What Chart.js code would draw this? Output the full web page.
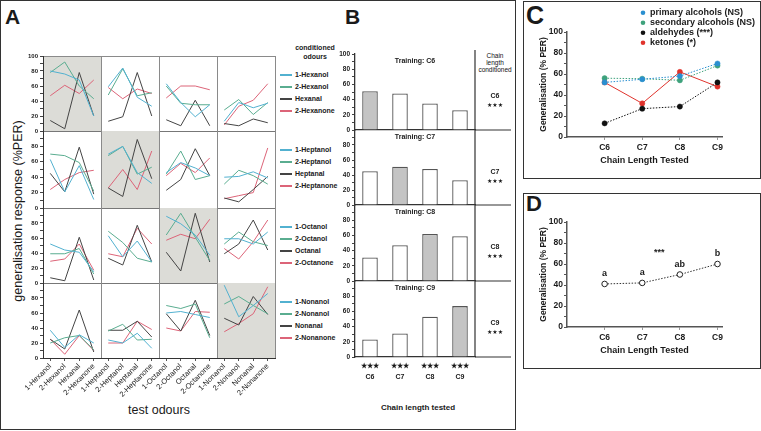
<!DOCTYPE html>
<html>
<head>
<meta charset="utf-8">
<script src="https://cdn.jsdelivr.net/npm/chart.js@4.4.1/dist/chart.umd.min.js"></script>
<style>
body { margin: 0; width: 761px; height: 431px; position: relative; background: #fff; overflow: hidden;
       font-family: "Liberation Sans", Arial, sans-serif; color: #1a1a1a; }
canvas { position: absolute; }
.frame { position: absolute; border: 1.5px solid #333; box-sizing: border-box; }
.txt { position: absolute; white-space: nowrap; line-height: 1; }
.panel { position: absolute; font-weight: bold; line-height: 1; }
</style>
</head>
<body>
<div class="frame" style="left:0;top:0;width:516px;height:430px"></div>
<div class="frame" style="left:523px;top:1px;width:238px;height:178px"></div>
<div class="frame" style="left:523px;top:193px;width:238px;height:176px"></div>

<div class="panel" style="left:5px;top:6px;font-size:21px">A</div>
<div class="panel" style="left:345px;top:6px;font-size:21px">B</div>
<div class="panel" style="left:526px;top:3px;font-size:25px">C</div>
<div class="panel" style="left:526px;top:193px;font-size:22px">D</div>

<div class="txt" style="left:18px;top:211px;font-size:12.5px;transform:translate(-50%,-50%) rotate(-90deg)">generalisation response (%PER)</div>
<div class="txt" style="left:159px;top:410px;font-size:12.5px;transform:translate(-50%,-50%)">test odours</div>
<div class="txt" style="left:315px;top:52px;font-size:7px;font-weight:bold;text-align:center;line-height:9px;transform:translate(-50%,-50%)">conditioned<br>odours</div>
<div id="aLegend"></div>

<div class="txt" style="left:495px;top:62px;font-size:6.5px;text-align:center;line-height:7px;color:#111;transform:translate(-50%,-50%)">Chain<br>length<br>conditioned</div>
<div class="txt" style="left:418px;top:408px;font-size:8px;font-weight:bold;transform:translate(-50%,-50%)">Chain length tested</div>

<canvas id="a0"></canvas><canvas id="a1"></canvas><canvas id="a2"></canvas><canvas id="a3"></canvas>
<canvas id="b0"></canvas><canvas id="b1"></canvas><canvas id="b2"></canvas><canvas id="b3"></canvas>
<canvas id="c"></canvas>
<canvas id="d"></canvas>

<script>
// ---------- data ----------
const testOdours = ['1-Hexanol', '2-Hexanol', 'Hexanal', '2-Hexanone',
                    '1-Heptanol', '2-Heptanol', 'Heptanal', '2-Heptanone',
                    '1-Octanol', '2-Octanol', 'Octanal', '2-Octanone',
                    '1-Nonanol', '2-Nonanol', 'Nonanal', '2-Nonanone'];
const percentTicks = [0, 10, 20, 30, 40, 50, 60, 70, 80, 90, 100];

// A: one line per conditioned odour, values for the 16 test odours
const hexanol1  = [80, 76, 68, 20, 59, 84, 45, 33, 63, 38, 19, 35, 13, 38, 31, 37];
const hexanol2  = [78, 92, 60, 43, 48, 83, 47, 51, 60, 37, 35, 35, 28, 42, 22, 38];
const hexanal   = [14, 3, 78, 20, 13, 19, 78, 20, 15, 7, 41, 7, 10, 7, 16, 11];
const hexanone2 = [47, 61, 50, 68, 58, 43, 56, 50, 44, 60, 60, 55, 8, 33, 41, 63];

const heptanol1  = [63, 21, 55, 11, 70, 80, 46, 32, 46, 59, 52, 42, 40, 41, 47, 39];
const heptanol2  = [70, 68, 59, 22, 68, 80, 44, 53, 44, 74, 37, 42, 31, 49, 42, 31];
const heptanal   = [45, 21, 79, 18, 26, 15, 89, 38, 23, 37, 77, 42, 13, 8, 24, 41];
const heptanone2 = [24, 37, 46, 49, 26, 50, 24, 74, 42, 58, 46, 65, 12, 16, 20, 78];

const octanol1  = [52, 44, 41, 15, 63, 35, 56, 28, 89, 79, 64, 37, 59, 59, 52, 68];
const octanol2  = [39, 39, 46, 12, 69, 54, 33, 28, 64, 93, 61, 30, 52, 68, 55, 50];
const octanal   = [7, 3, 61, 4, 33, 24, 77, 28, 41, 16, 93, 28, 39, 52, 84, 44];
const octanone2 = [29, 32, 52, 17, 39, 35, 73, 52, 57, 65, 59, 85, 46, 32, 55, 84];

const nonanol1  = [37, 14, 31, 20, 24, 20, 33, 13, 60, 62, 58, 54, 97, 55, 70, 86];
const nonanol2  = [20, 27, 30, 11, 36, 45, 24, 25, 70, 66, 72, 27, 72, 82, 70, 59];
const nonanal   = [25, 12, 64, 8, 37, 37, 49, 28, 59, 36, 77, 30, 53, 44, 82, 58];
const nonanone2 = [25, 5, 30, 10, 20, 20, 49, 38, 40, 36, 62, 61, 35, 46, 59, 95];

// B: bars per training chain length
const chainLabels = ['C6', 'C7', 'C8', 'C9'];
const chainLengths = [6, 7, 8, 9];
const trainingC6 = [51, 48, 35, 26];
const trainingC7 = [45, 51, 48, 33];
const trainingC8 = [31, 47, 62, 59];
const trainingC9 = [23, 31, 53, 67];
const sigStars = ['★★★', '★★★', '★★★', '★★★'];

// C: per functional group
const primaryAlcohols = [52, 55, 58, 70];
const secondaryAlcohols = [56, 55.5, 54, 68];
const aldehydes = [13, 27, 29, 52];
const ketones = [52, 32, 62, 48];
const groupNames = ['primary alcohols (NS)', 'secondary alcohols (NS)', 'aldehydes (***)', 'ketones (*)'];

// D: pooled
const pooled = [41, 42, 50, 60];
const pooledLetters = ['a', 'a', 'ab', 'b'];

// ---------- layout / style ----------
const FONT = '"Liberation Sans", Arial, sans-serif';
const A_ROWS = [[56, 131], [131, 208], [208, 283], [283, 358]];
const B_ROWS = [[54, 130], [130, 205], [205, 281], [281, 357]];
const odourColours = ['#52b1d0', '#5aad90', '#444444', '#dc6478'];

Chart.defaults.font.family = FONT;
Chart.defaults.color = '#1a1a1a';
Chart.defaults.animation = false;
Chart.defaults.plugins.legend.display = false;
Chart.defaults.plugins.tooltip.enabled = false;

function place(id, left, top, w, h) {
    const c = document.getElementById(id);
    c.width = w; c.height = h;
    c.style.left = left + 'px';
    c.style.top = top + 'px';
    return c;
}

// grey cell + cell borders for the odour grid
const cellPlugin = {
    id: 'cells',
    beforeDraw(chart, args, o) {
        const { ctx, chartArea: a, scales: { x } } = chart;
        const step = x.getPixelForValue(1) - x.getPixelForValue(0);
        const edge = k => x.getPixelForValue(4 * k) - step / 2;
        ctx.save();
        ctx.fillStyle = '#dcdcd7';
        ctx.fillRect(edge(o.shade), a.top, edge(o.shade + 1) - edge(o.shade), a.bottom - a.top);
        ctx.strokeStyle = '#8a8a8a';
        ctx.lineWidth = 1;
        ctx.beginPath();
        for (let k = 1; k <= 4; k++) {
            const px = Math.round(edge(k)) + 0.5;
            ctx.moveTo(px, a.top); ctx.lineTo(px, a.bottom);
        }
        if (o.top) { ctx.moveTo(a.left, a.top + 0.5); ctx.lineTo(a.right, a.top + 0.5); }
        ctx.stroke();
        ctx.restore();
    }
};

// ===============================
// A: odour generalisation grid
// ===============================
const aRows = [
    [hexanol1, hexanol2, hexanal, hexanone2],
    [heptanol1, heptanol2, heptanal, heptanone2],
    [octanol1, octanol2, octanal, octanone2],
    [nonanol1, nonanol2, nonanal, nonanone2]
];

aRows.forEach((series, i) => {
    const [top, bottom] = A_ROWS[i];
    const last = i === 3;
    const xh = last ? 55 : 0;
    const cv = place('a' + i, 0, top - 6, 281, bottom - top + 6 + (last ? xh : 6));
    new Chart(cv, {
        type: 'line',
        data: {
            labels: testOdours,
            datasets: series.map((d, k) => ({
                label: testOdours[4 * i + k],
                data: d,
                borderColor: odourColours[k],
                borderWidth: 1,
                pointRadius: 0,
                segment: { borderColor: c => c.p0DataIndex % 4 === 3 ? 'rgba(0,0,0,0)' : undefined }
            }))
        },
        options: {
            responsive: false,
            layout: { padding: { top: 6, right: 6, bottom: last ? 0 : 6, left: 0 } },
            plugins: { cells: { shade: i, top: i === 0 } },
            scales: {
                x: {
                    type: 'category', offset: true,
                    border: { color: last ? '#333' : '#777', width: 1 },
                    grid: { display: last, drawOnChartArea: false, tickLength: 3, color: '#555' },
                    ticks: { display: last, autoSkip: false, minRotation: 45, maxRotation: 45, padding: 1,
                             font: { size: 7.5 }, color: '#222' },
                    afterFit: s => { s.height = xh; }
                },
                y: {
                    min: 0, max: 100,
                    border: { color: '#333', width: 1 },
                    grid: { drawOnChartArea: false, tickLength: 3, color: '#444' },
                    afterBuildTicks: s => { s.ticks = percentTicks.map(v => ({ value: v })); },
                    ticks: { autoSkip: false, padding: 2, font: { size: 6, weight: 'bold', lineHeight: 1 },
                             callback: v => (v % 20 === 0 && (i === 0 || v < 100)) ? String(v) : '' },
                    afterFit: s => { s.width = 43; }
                }
            }
        },
        plugins: [cellPlugin]
    });
});

// A legend (conditioned odours)
const aLegend = document.getElementById('aLegend');
A_ROWS.forEach(([top], i) => {
    odourColours.forEach((col, k) => {
        const y = top + 19 + 12 * k;
        const sw = document.createElement('div');
        sw.style.cssText = `position:absolute;left:280px;top:${y - 0.75}px;width:12px;height:1.5px;background:${col}`;
        aLegend.appendChild(sw);
        const t = document.createElement('div');
        t.className = 'txt';
        t.style.cssText = `left:295px;top:${y - 4}px;font-size:7px;font-weight:bold`;
        t.textContent = testOdours[4 * i + k];
        aLegend.appendChild(t);
    });
});

// ===============================
// B: bars by training chain length
// ===============================
const sideColumn = {
    id: 'sideColumn',
    afterDraw(chart, args, o) {
        const { ctx, chartArea: a } = chart;
        ctx.save();
        ctx.strokeStyle = '#333';
        ctx.lineWidth = 1.2;
        ctx.beginPath();
        ctx.moveTo(a.right, a.top - o.extendTop); ctx.lineTo(a.right, a.bottom);
        ctx.moveTo(a.right, a.bottom); ctx.lineTo(a.right + 36, a.bottom);
        ctx.stroke();
        ctx.fillStyle = '#1a1a1a';
        ctx.textAlign = 'center';
        ctx.textBaseline = 'middle';
        ctx.font = 'bold 7px ' + FONT;
        ctx.fillText(o.title, (a.left + a.right) / 2, a.top + 7);
        ctx.fillText(o.label, a.right + 20, a.top + 42);
        ctx.font = '6px "DejaVu Sans", sans-serif';
        ctx.fillText(o.stars, a.right + 20, a.top + 51);
        ctx.restore();
    }
};

const bRows = [trainingC6, trainingC7, trainingC8, trainingC9];
bRows.forEach((vals, i) => {
    const [top, bottom] = B_ROWS[i];
    const last = i === 3;
    const xh = last ? 30 : 0;
    const cv = place('b' + i, 330, top - 6, 186, bottom - top + 6 + (last ? xh : 6));
    new Chart(cv, {
        type: 'bar',
        data: {
            labels: last ? chainLabels.map((c, j) => [sigStars[j], c]) : chainLabels,
            datasets: [{
                data: vals,
                backgroundColor: vals.map((v, j) => j === i ? '#c4c4c4' : '#ffffff'),
                borderColor: '#555',
                borderWidth: 1.3,
                barPercentage: 0.52,
                categoryPercentage: 1
            }]
        },
        options: {
            responsive: false,
            layout: { padding: { top: 6, right: 41, bottom: last ? 0 : 6, left: 0 } },
            plugins: { sideColumn: { title: 'Training: ' + chainLabels[i], label: chainLabels[i],
                                     stars: sigStars[i], extendTop: i === 0 ? 4 : 0 } },
            scales: {
                x: {
                    offset: true,
                    border: { color: '#333', width: 1.3 },
                    grid: { display: false, drawTicks: false },
                    ticks: { display: last, padding: 4, font: { size: 7, weight: 'bold', lineHeight: 1.5 } },
                    afterFit: s => { s.height = xh; }
                },
                y: {
                    min: 0, max: 100,
                    border: { color: '#333', width: 1.3 },
                    grid: { drawOnChartArea: false, tickLength: 3, color: '#444' },
                    afterBuildTicks: s => { s.ticks = percentTicks.map(v => ({ value: v })); },
                    ticks: { autoSkip: false, padding: 2, font: { size: 6.5, weight: 'bold', lineHeight: 1 },
                             callback: v => (v % 20 === 0 && (i === 0 || v < 100)) ? String(v) : '' },
                    afterFit: s => { s.width = 25; }
                }
            }
        },
        plugins: [sideColumn]
    });
});

// ===============================
// C and D
// ===============================
const dotLegend = {
    id: 'dotLegend',
    afterDraw(chart, args, o) {
        const { ctx } = chart;
        ctx.save();
        ctx.font = 'bold 9px ' + FONT;
        ctx.textBaseline = 'middle';
        chart.data.datasets.forEach((ds, k) => {
            const y = o.y + k * 10;
            ctx.fillStyle = ds.pointBackgroundColor;
            ctx.beginPath(); ctx.arc(o.x, y, 2.3, 0, Math.PI * 2); ctx.fill();
            ctx.fillStyle = '#1a1a1a';
            ctx.fillText(ds.label, o.x + 7, y);
        });
        ctx.restore();
    }
};

const letterPlugin = {
    id: 'letters',
    afterDatasetsDraw(chart, args, o) {
        const { ctx, scales: { x, y } } = chart;
        ctx.save();
        ctx.font = 'bold 9px ' + FONT;
        ctx.fillStyle = '#1a1a1a';
        ctx.textAlign = 'center';
        ctx.textBaseline = 'middle';
        chart.getDatasetMeta(0).data.forEach((pt, j) => ctx.fillText(o.letters[j], pt.x, pt.y - 10));
        ctx.fillText('***', x.getPixelForValue(7.45), y.getPixelForValue(71));
        ctx.restore();
    }
};

function smallScales(xh, titleBottom) {
    return {
        x: {
            type: 'linear', min: 5, max: 9.12,
            border: { color: '#555', width: 1.5 },
            grid: { drawOnChartArea: false, tickLength: 3, color: '#999' },
            afterBuildTicks: s => { s.ticks = chainLengths.map(v => ({ value: v })); },
            ticks: { padding: 2.5, font: { size: 8.5, weight: 'bold' },
                     callback: v => chainLabels[chainLengths.indexOf(v)] },
            title: { display: true, text: 'Chain Length Tested', font: { size: 9, weight: 'bold' },
                     padding: { top: 0, bottom: titleBottom } },
            afterFit: s => { s.height = xh; }
        },
        y: {
            min: 0, max: 100,
            border: { color: '#555', width: 1.5 },
            grid: { drawOnChartArea: false, tickLength: 3, color: '#555' },
            afterBuildTicks: s => { s.ticks = percentTicks.map(v => ({ value: v })); },
            ticks: { autoSkip: false, padding: 1, font: { size: 8.5, weight: 'bold', lineHeight: 1 },
                     callback: v => v % 20 === 0 ? String(v) : '' },
            title: { display: true, text: 'Generalisation (% PER)', font: { size: 8.5, weight: 'bold' },
                     padding: { top: 16, bottom: 0 } },
            afterFit: s => { s.width = 44; }
        }
    };
}

const groupColours = ['#2a8fd0', '#3ea27c', '#111111', '#e0332c'];
const groupData = [primaryAlcohols, secondaryAlcohols, aldehydes, ketones];

new Chart(place('c', 523, 2, 237, 176), {
    type: 'line',
    data: {
        labels: chainLengths,
        datasets: groupData.map((d, k) => ({
            label: groupNames[k],
            data: d,
            borderColor: groupColours[k],
            pointBackgroundColor: groupColours[k],
            pointBorderColor: groupColours[k],
            pointRadius: 2.6,
            pointBorderWidth: 0.5,
            borderWidth: 1,
            borderDash: k === 3 ? [] : [1.5, 1.5]
        }))
    },
    options: {
        responsive: false,
        layout: { padding: { top: 30, right: 38, bottom: 0, left: 0 } },
        plugins: { dotLegend: { x: 120, y: 10.7 } },
        scales: smallScales(41, 12)
    },
    plugins: [dotLegend]
});

new Chart(place('d', 523, 193, 237, 176), {
    type: 'line',
    data: {
        labels: chainLengths,
        datasets: [{
            label: 'pooled',
            data: pooled,
            borderColor: '#333',
            borderWidth: 1,
            borderDash: [1.5, 1.5],
            pointRadius: 2.8,
            pointBackgroundColor: '#fff',
            pointBorderColor: '#222',
            pointBorderWidth: 1
        }]
    },
    options: {
        responsive: false,
        layout: { padding: { top: 29, right: 38, bottom: 0, left: 0 } },
        plugins: { letters: { letters: pooledLetters } },
        scales: smallScales(42, 13.5)
    },
    plugins: [letterPlugin]
});
</script>
</body>
</html>
